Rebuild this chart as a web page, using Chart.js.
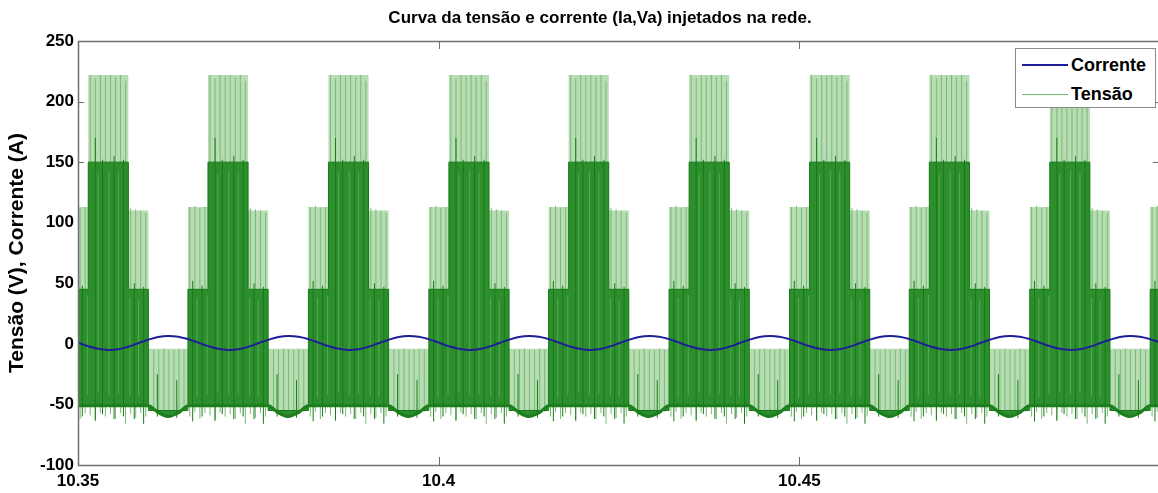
<!DOCTYPE html>
<html><head><meta charset="utf-8">
<script src="https://cdn.jsdelivr.net/npm/chart.js@4/dist/chart.umd.min.js"></script>
<style>
html,body{margin:0;padding:0;background:#fff;overflow:hidden;width:1158px;height:493px;}
#wrap{position:relative;width:1166px;height:493px;}
#legend{position:absolute;left:1015px;top:48px;width:139px;height:58px;box-sizing:content-box;background:#fff;border:1px solid #8a8a8a;font:bold 18px "Liberation Sans",Arial,sans-serif;color:#000;}
#legend .row{position:absolute;left:6px;display:flex;align-items:center;height:22px;}
#legend .sw{width:46px;margin-right:3px;}
</style></head><body>
<div id="wrap"><canvas id="c" width="1166" height="493"></canvas><div id="legend"></div></div>
<script>
// ---- axis ticks ----
const xTicks = [10.35, 10.4, 10.45, 10.5];
const yTicks = [-100, -50, 0, 50, 100, 150, 200, 250];

// ---- Corrente (A), sampled every 1/720 s from 10.35 s ----
const correnteStart = 10.35;
const correnteStep = 1 / 720;
const corrente = [
  1.0,-1.9,-4.1,-5.0,-4.4,-2.4,0.5,3.4,5.6,6.5,5.9,3.9,
  1.0,-1.9,-4.1,-5.0,-4.4,-2.4,0.5,3.4,5.6,6.5,5.9,3.9,
  1.0,-1.9,-4.1,-5.0,-4.4,-2.4,0.5,3.4,5.6,6.5,5.9,3.9,
  1.0,-1.9,-4.1,-5.0,-4.4,-2.4,0.5,3.4,5.6,6.5,5.9,3.9,
  1.0,-1.9,-4.1,-5.0,-4.4,-2.4,0.5,3.4,5.6,6.5,5.9,3.9,
  1.0,-1.9,-4.1,-5.0,-4.4,-2.4,0.5,3.4,5.6,6.5,5.9,3.9,
  1.0,-1.9,-4.1,-5.0,-4.4,-2.4,0.5,3.4,5.6,6.5,5.9,3.9,
  1.0,-1.9,-4.1,-5.0,-4.4,-2.4,0.5,3.4,5.6,6.5,5.9,3.9,
  1.0,-1.9,-4.1,-5.0,-4.4,-2.4,0.5,3.4,5.6,6.5,5.9,3.9,
  1.0
];

// ---- Tensão (V): centres of the positive switching bursts (s) ----
const burstCenters = [10.3375, 10.3542, 10.3708, 10.3875, 10.4042, 10.4208, 10.4375, 10.4542, 10.4708, 10.4875, 10.5042];
// segment starts relative to a burst centre (s) and envelope levels (V)
const segOffsets  = [-0.00556, -0.00278, 0.00278, 0.00556];
const lightLevels = [113, 222, 110, -4];
const darkLevels  = [45, 150, 45, -55];
// lower envelope: flat inside the burst, dipping in the negative gap
const bottomOffsets = [-0.0050, 0.0050, 0.00556, 0.0070, 0.00833, 0.0097, 0.0111];
const bottomLevels  = [-51, -51, -51, -57, -60, -57, -51];
// individual visible switching strokes (offsets from burst centre)
const lightSpikeOffsets = [-0.0053,-0.0046,-0.0039,-0.0032,-0.0025,-0.0018,-0.0011,-0.0004,0.0003,0.0010,0.0017,0.0024,0.0031,0.0038,0.0045,0.0052,0.0063,0.0070,0.0077,0.0084,0.0091,0.0098,0.0105];
const lightSpikeTops    = [113,114,112,113,222,219,222,221,222,220,222,217,112,111,110,108,-5,-5,-4,-5,-5,-4,-5];
const lightSpikeBottoms = [-60,-56,-62,-57,-59,-64,-57,-60,-58,-62,-57,-66,-58,-61,-57,-60,-56,-56,-56,-56,-56,-56,-56];
const darkSpikeOffsets = [-0.0049,-0.0036,-0.0018,-0.0008,0.0008,0.0021,0.0036,0.0049,0.0068,0.0095];
const darkSpikeTops    = [52,48,170,152,155,152,50,47,-25,-30];
const darkSpikeBottoms = [-64,-60,-63,-58,-62,-60,-62,-66,-60,-61];
// lighter streaks seen inside the dense (dark) parts of each burst
const midStreakOffsets = [-0.0043,-0.0029,-0.0014,0.0001,0.0014,0.0030,0.0042];
const midStreakTops    = [38,40,140,143,141,38,36];
const midStreakBottoms = [-44,-42,-40,-42,-41,-43,-44];

// ---- build library data from the arrays ----
const correnteData = corrente.map((v, i) => ({x: correnteStart + i * correnteStep, y: v}));
const lightTop = [], darkTop = [], bottomEnv = [], lightSpikes = [], darkSpikes = [], midStreaks = [];
burstCenters.forEach(c => {
  segOffsets.forEach((o, i) => {
    lightTop.push({x: c + o, y: lightLevels[i]});
    darkTop.push({x: c + o, y: darkLevels[i]});
  });
  bottomOffsets.forEach((o, i) => bottomEnv.push({x: c + o, y: bottomLevels[i]}));
  lightSpikeOffsets.forEach((o, i) => {
    lightSpikes.push({x: c + o, y: lightSpikeBottoms[i]}, {x: c + o, y: lightSpikeTops[i]}, {x: c + o, y: null});
  });
  darkSpikeOffsets.forEach((o, i) => {
    darkSpikes.push({x: c + o, y: darkSpikeBottoms[i]}, {x: c + o, y: darkSpikeTops[i]}, {x: c + o, y: null});
  });
  midStreakOffsets.forEach((o, i) => {
    midStreaks.push({x: c + o, y: midStreakBottoms[i]}, {x: c + o, y: midStreakTops[i]}, {x: c + o, y: null});
  });
});

const FONT = '"Liberation Sans", Arial, Helvetica, sans-serif';
Chart.defaults.font.family = FONT;
Chart.defaults.color = '#000';

const boxPlugin = {
  id: 'matlabBox',
  afterLayout(chart) {
    // title sits centred on the full (uncropped) figure, a little left of the axes centre
    if (chart.titleBlock) { chart.titleBlock.left = 38; chart.titleBlock.right = 1162; }
  },
  beforeDatasetsDraw(chart) {
    const {ctx, chartArea: a, scales: {x, y}} = chart;
    ctx.save();
    ctx.strokeStyle = '#6e6e6e';
    ctx.lineWidth = 1;
    ctx.beginPath();
    xTicks.forEach(v => {
      const px = Math.round(x.getPixelForValue(v)) + 0.5;
      ctx.moveTo(px, a.bottom); ctx.lineTo(px, a.bottom - 8);
      ctx.moveTo(px, a.top); ctx.lineTo(px, a.top + 8);
    });
    yTicks.forEach(v => {
      const py = Math.round(y.getPixelForValue(v)) + 0.5;
      ctx.moveTo(a.left, py); ctx.lineTo(a.left + 6, py);
      ctx.moveTo(a.right, py); ctx.lineTo(a.right - 7, py);
    });
    ctx.stroke();
    ctx.restore();
  },
  afterDraw(chart) {
    const {ctx, chartArea: a} = chart;
    ctx.save();
    ctx.strokeStyle = '#707070';
    ctx.lineWidth = 1.5;
    ctx.strokeRect(Math.round(a.left) + 0.5, Math.round(a.top) + 0.5, Math.round(a.right - a.left), Math.round(a.bottom - a.top));
    ctx.restore();
  }
};

const chart = new Chart(document.getElementById('c'), {
  type: 'line',
  data: {
    datasets: [
      {label: 'Corrente', data: correnteData, borderColor: '#1e1e98', borderWidth: 2, pointRadius: 0, tension: 0.4, fill: false, order: 0},
      {label: 'darkSpikes', data: darkSpikes, borderColor: '#157c15', borderWidth: 1, pointRadius: 0, spanGaps: false, fill: false, order: 1},
      {label: 'bottom', data: bottomEnv, borderColor: '#1c7e1c', borderWidth: 3, pointRadius: 0, cubicInterpolationMode: 'monotone', fill: false, order: 2},
      {label: 'midStreaks', data: midStreaks, borderColor: '#5aa957', borderWidth: 1, pointRadius: 0, spanGaps: false, fill: false, order: 3},
      {label: 'darkFill', data: darkTop, stepped: true, borderColor: '#177a17', borderWidth: 1, pointRadius: 0, fill: {target: 2}, backgroundColor: '#2d8e2d', order: 4},
      {label: 'Tensão', data: lightSpikes, borderColor: '#78ba74', borderWidth: 1, pointRadius: 0, spanGaps: false, fill: false, order: 5},
      {label: 'lightFill', data: lightTop, stepped: true, borderWidth: 0, borderColor: 'rgba(0,0,0,0)', pointRadius: 0, fill: {target: 2}, backgroundColor: '#b8ddb5', order: 6}
    ]
  },
  options: {
    responsive: false,
    animation: false,
    devicePixelRatio: 1,
    layout: {padding: {left: 0, right: 3.5, top: 0, bottom: 0}},
    plugins: {
      legend: {display: false},
      tooltip: {enabled: false},
      title: {
        display: true, text: 'Curva da tensão e corrente (Ia,Va) injetados na rede.',
        font: {size: 17, weight: 'bold', lineHeight: 1.2}, color: '#000',
        padding: {top: 8, bottom: 12.6}
      }
    },
    scales: {
      x: {
        type: 'linear', min: 10.35, max: 10.5,
        afterBuildTicks: s => { s.ticks = xTicks.map(v => ({value: v})); },
        afterFit: s => { s.height = 28; },
        ticks: {
          font: {size: 17, weight: 'bold'}, color: '#000', padding: 6, maxRotation: 0, autoSkip: false,
          callback: v => (v >= 10.5 ? '' : String(parseFloat(v.toFixed(2))))
        },
        grid: {display: false, drawTicks: false},
        border: {display: false}
      },
      y: {
        type: 'linear', min: -100, max: 250,
        afterBuildTicks: s => { s.ticks = yTicks.map(v => ({value: v})); },
        afterFit: s => { s.width = 78; },
        ticks: {font: {size: 17, weight: 'bold'}, color: '#000', padding: 4, autoSkip: false},
        grid: {display: false, drawTicks: false},
        border: {display: false},
        title: {display: true, text: 'Tensão (V), Corrente (A)', font: {size: 21, weight: 'bold'}, color: '#000', padding: {top: 5, bottom: 0}}
      }
    }
  },
  plugins: [boxPlugin]
});

// legend (entries taken from the chart's own datasets)
const legendEl = document.getElementById('legend');
['Corrente', 'Tensão'].forEach((name, i) => {
  const ds = chart.data.datasets.find(d => d.label === name);
  const row = document.createElement('div');
  row.className = 'row';
  row.style.top = (5 + i * 29) + 'px';
  const sw = document.createElement('div');
  sw.className = 'sw';
  sw.style.borderTop = ds.borderWidth + 'px solid ' + (name === 'Tensão' ? '#74b970' : ds.borderColor);
  const t = document.createElement('span');
  t.textContent = name;
  row.appendChild(sw); row.appendChild(t);
  legendEl.appendChild(row);
});
</script>
</body></html>
